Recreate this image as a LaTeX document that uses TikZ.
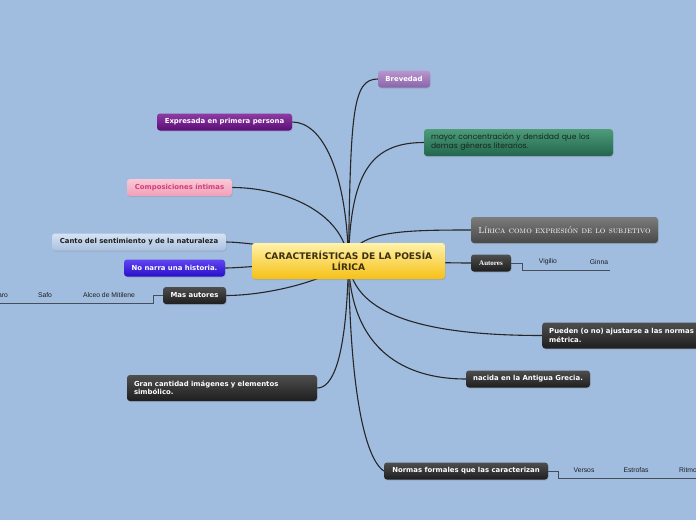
\documentclass[tikz,border=0pt]{standalone}
\usepackage{fontspec}
\newfontfamily\vfont{DejaVu Sans}
\newfontfamily\roundfont{Poppins}
\newfontfamily\leaffont{Liberation Sans}
\newfontfamily\autfont{Liberation Serif}
\usetikzlibrary{shadows, positioning}

\pgfdeclarelayer{bg}
\pgfdeclarelayer{edges}
\pgfsetlayers{bg,edges,main}

\definecolor{sky}{RGB}{160,189,224}
\definecolor{branchCol}{RGB}{38,38,38}
\definecolor{lineCol}{RGB}{70,78,92}
\definecolor{leafText}{RGB}{30,30,30}
\definecolor{darkTop}{RGB}{78,78,78}
\definecolor{darkBot}{RGB}{30,30,30}
\definecolor{mainTop}{RGB}{255,242,170}
\definecolor{mainBot}{RGB}{246,192,20}
\definecolor{mainText}{RGB}{60,48,16}
\definecolor{brevTop}{RGB}{184,150,206}
\definecolor{brevBot}{RGB}{138,100,170}
\definecolor{primTop}{RGB}{140,60,162}
\definecolor{primBot}{RGB}{92,12,118}
\definecolor{greenTop}{RGB}{78,156,122}
\definecolor{greenBot}{RGB}{34,102,76}
\definecolor{greenText}{RGB}{20,40,30}
\definecolor{pinkTop}{RGB}{250,200,214}
\definecolor{pinkBot}{RGB}{240,160,186}
\definecolor{pinkText}{RGB}{212,62,118}
\definecolor{grayTop}{RGB}{124,124,124}
\definecolor{grayBot}{RGB}{72,72,72}
\definecolor{cantoTop}{RGB}{214,227,244}
\definecolor{cantoBot}{RGB}{170,193,224}
\definecolor{violTop}{RGB}{96,70,242}
\definecolor{violBot}{RGB}{40,14,200}

\begin{document}
\begin{tikzpicture}[
    x=1pt, y=-1pt,
    topic/.style = {rectangle, rounded corners=3pt, minimum height=17pt, inner xsep=7pt, inner ysep=2pt,
        font=\vfont\bfseries\fontsize{6.9}{8.4}\selectfont,
        drop shadow={shadow xshift=0.6pt, shadow yshift=-1pt, opacity=0.3}},
    darkTopic/.style = {topic, top color=darkTop, bottom color=darkBot, text=white},
    leaf/.style = {font=\leaffont\fontsize{6.8}{8}\selectfont, text=leafText, inner sep=1pt},
    branch/.style = {draw=branchCol, line width=1.1pt},
    underline/.style = {draw=lineCol, line width=0.6pt}
]
\useasboundingbox (0,0) rectangle (696,520);
\begin{pgfonlayer}{bg}
\fill[sky] (0,0) rectangle (696,520);
\end{pgfonlayer}

% central topic
\node(Center)[topic, minimum width=193pt, minimum height=36pt, top color=mainTop, bottom color=mainBot,
    text=mainText, align=center, font=\vfont\bfseries\fontsize{9.1}{11}\selectfont] at (348.5,261) {
    CARACTERÍSTICAS DE LA POESÍA\\LÍRICA
};

% right side
\node(Brevedad)[topic, minimum width=52pt, top color=brevTop, bottom color=brevBot, text=white] at (404,79) {Brevedad};

\node(Densidad)[topic, text width=175pt, minimum height=27pt, align=left, top color=greenTop, bottom color=greenBot,
    text=greenText, font=\roundfont\fontsize{7.6}{9}\selectfont] at (518.5,142.5) {
    mayor concentración y densidad que los\\demas géneros literarios.
};

\node(Subjetivo)[topic, minimum width=187pt, minimum height=26pt, top color=grayTop, bottom color=grayBot,
    text=white, font=\scshape\fontsize{8.8}{10}\selectfont] at (564.5,230) {Lírica como expresión de lo subjetivo};

\node(Autores)[darkTopic, minimum width=40pt, font=\autfont\bfseries\fontsize{7}{8}\selectfont] at (491,263) {Autores};
\node(Virgilio)[leaf] at (548,262) {Vigilio};
\node(Cinna)[leaf] at (599,262) {Ginna};
\coordinate (autEnd) at (610,270);
\draw[underline] (Autores.east) -- ++(11,0) |- (autEnd);

\node(Metrica)[darkTopic, anchor=west, text width=162pt, minimum height=26pt, align=left] at (542,335.5) {
    Pueden (o no) ajustarse a las normas\\métrica.
};

\node(Grecia)[darkTopic, minimum width=124pt] at (528,379) {nacida en la Antigua Grecia.};

\node(Normas)[darkTopic, minimum width=164pt] at (466,471) {Normas formales que las caracterizan};
\node(Versos)[leaf] at (584,470) {Versos};
\node(Estrofas)[leaf] at (636,470) {Estrofas};
\node(Ritmo)[leaf] at (688,470) {Ritmo};
\coordinate (normEnd) at (700,478);
\draw[underline] (Normas.east) -- ++(10,0) |- (normEnd);

% left side
\node(Primera)[topic, minimum width=135pt, top color=primTop, bottom color=primBot, text=white] at (224.5,122) {Expresada en primera persona};

\node(Intimas)[topic, minimum width=105pt, top color=pinkTop, bottom color=pinkBot, text=pinkText] at (179.5,187.5) {Composiciones íntimas};

\node(Canto)[topic, minimum width=174pt, top color=cantoTop, bottom color=cantoBot, text=leafText] at (139,242) {Canto del sentimiento y de la naturaleza};

\node(Historia)[topic, minimum width=101pt, top color=violTop, bottom color=violBot, text=white] at (174.5,268) {No narra una historia.};

\node(MasAutores)[darkTopic, minimum width=63pt] at (194.5,295.5) {Mas autores};
\node(Alceo)[leaf] at (109,295) {Alceo de Mitilene};
\node(Safo)[leaf] at (45,295) {Safo};
\node(Pindaro)[leaf] at (-4,295) {Píndaro};
\coordinate (masEnd) at (-10,303);
\draw[underline] (MasAutores.west) -- ++(-10,0) |- (masEnd);

\node(Imagenes)[darkTopic, text width=176pt, minimum height=26pt, align=left] at (222,388) {
    Gran cantidad imágenes y elementos\\simbólico.
};

% branches
\begin{pgfonlayer}{edges}
\draw[branch] (Center.center) .. controls +(2,-150) and +(-25,0) .. (Brevedad.west);
\draw[branch] (Center.center) .. controls +(2,-85) and +(-55,0) .. (Densidad.west);
\draw[branch] (Center.center) .. controls +(6,-30) and +(-70,0) .. (Subjetivo.west);
\draw[branch] (Center.center) .. controls +(40,0) and +(-30,0) .. (Autores.west);
\draw[branch] (Center.center) .. controls +(4,60) and +(-100,0) .. (Metrica.west);
\draw[branch] (Center.center) .. controls +(2,90) and +(-60,0) .. (Grecia.west);
\draw[branch] (Center.center) .. controls +(2,150) and +(-15,-10) .. (Normas.west);
\draw[branch] (Center.center) .. controls +(-2,-90) and +(30,0) .. (Primera.east);
\draw[branch] (Center.center) .. controls +(-5,-50) and +(50,0) .. (Intimas.east);
\draw[branch] (Center.center) .. controls +(-40,-10) and +(20,0) .. (Canto.east);
\draw[branch] (Center.center) .. controls +(-40,0) and +(20,0) .. (Historia.east);
\draw[branch] (Center.center) .. controls +(-20,20) and +(40,0) .. (MasAutores.east);
\draw[branch] (Center.center) .. controls +(-2,100) and +(15,0) .. (Imagenes.east);
\end{pgfonlayer}

\end{tikzpicture}
\end{document}
